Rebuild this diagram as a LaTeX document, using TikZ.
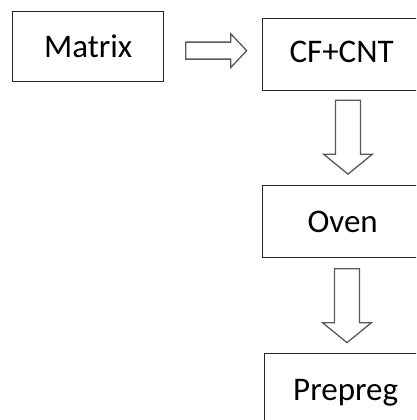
\documentclass[tikz,border=0pt]{standalone}
\usepackage{fontspec}
\setmainfont{Carlito}
\usetikzlibrary{calc}
\tikzset{
  box/.style={draw=black!85, line width=1.3pt, rectangle, inner sep=0pt,
    anchor=north west, font=\fontsize{33}{40}\selectfont, text=black,
    text height=21.6pt, text depth=0pt},
  barrow/.style={draw=black!65, line width=1.3pt, fill=white, line join=miter},
  harrow/.pic={\draw[barrow] (-30.5,-8.5) -- (14.5,-8.5) -- (14.5,-17) -- (30.5,0)
      -- (14.5,17) -- (14.5,8.5) -- (-30.5,8.5) -- cycle;},
  varrow/.pic={\draw[barrow] (-12.5,-37) -- (12.5,-37) -- (12.5,17) -- (24.5,17)
      -- (0,37) -- (-24.5,17) -- (-12.5,17) -- (-12.5,-37) -- cycle;}
}
\begin{document}
\begin{tikzpicture}[x=1pt,y=-1pt]
\useasboundingbox (0,0) rectangle (416,420);
\clip (0,0) rectangle (416,420);
\node[box, minimum width=151pt, minimum height=70pt] (matrix) at (12,11) {Matrix};
\node[box, minimum width=158pt, minimum height=72pt, text depth=5.6pt] (cf) at (262,18) {CF+CNT};
\node[box, minimum width=160pt, minimum height=72pt] (oven) at (262,185) {Oven};
\node[box, minimum width=162pt, minimum height=72pt] (prepreg) at (264,353) {Prepreg};
% connectors (block arrows) placed between the named boxes
\coordinate (h1) at ($(matrix.east)!0.5!(cf.west)$);
\path ($(cf.south)!0.5!(oven.north)$) coordinate (v1m);
\path ($(oven.south)!0.5!(prepreg.north)$) coordinate (v2m);
\coordinate (v1) at (348,0 |- v1m);
\coordinate (v2) at (347,0 |- v2m);
\pic at ($(h1)+(3,0)$) {harrow};
\pic at ($(v1)+(0,-1)$) {varrow};
\pic at (v2) {varrow};
\end{tikzpicture}
\end{document}
